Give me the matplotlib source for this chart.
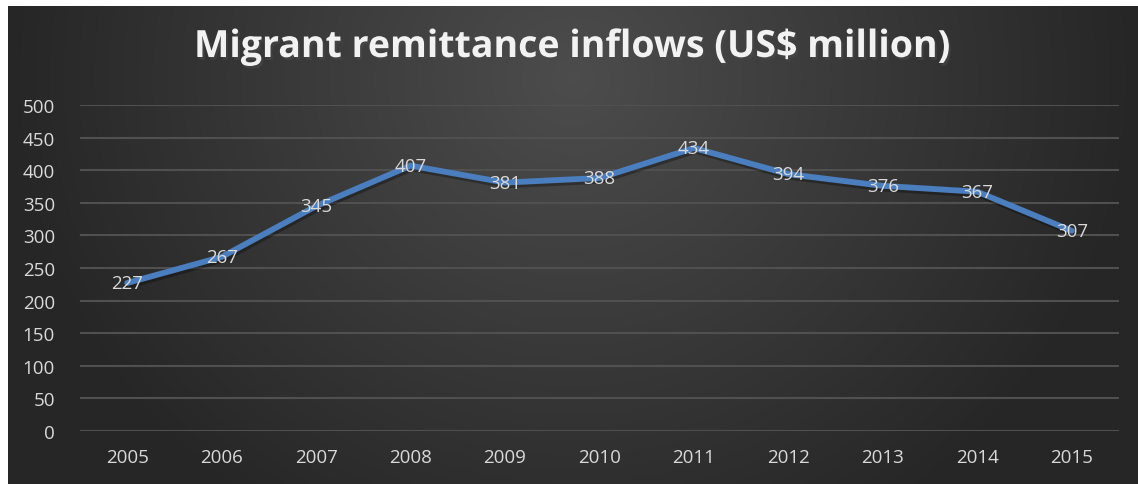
import numpy as np
import matplotlib.pyplot as plt
import matplotlib.patheffects as pe

years = ['2005', '2006', '2007', '2008', '2009', '2010', '2011', '2012', '2013', '2014', '2015']
inflows = [227, 267, 345, 407, 381, 388, 434, 394, 376, 367, 307]
yticks = [0, 50, 100, 150, 200, 250, 300, 350, 400, 450, 500]

W, H = 1138, 485
fig = plt.figure(figsize=(W / 100, H / 100), dpi=100, facecolor='white')

# dark radial gradient background (chart area, leaves white strip on top/left)
bg = fig.add_axes([8 / W, 0, 1 - 8 / W, 1 - 7 / H])
gx, gy = np.meshgrid(np.linspace(-1, 1, 400), np.linspace(0, 1, 200))
r = np.sqrt((gx / 1.0) ** 2 + ((gy - 0.15) / 1.1) ** 2)
shade = np.clip(0.30 - 0.15 * r, 0.15, 0.30)
bg.imshow(np.dstack([shade] * 3), aspect='auto', extent=[0, 1, 0, 1], origin='upper')
bg.axis('off')

txt = '#d9d9d9'
ax = fig.add_axes([80 / W, (H - 432) / H, (1119 - 80) / W, (432 - 106) / H])
ax.patch.set_alpha(0)
x = np.arange(len(years))
ax.plot(x, inflows, color='#4a7ebf', lw=4.2, solid_capstyle='round',
        path_effects=[pe.SimpleLineShadow(offset=(1, -2), alpha=0.3), pe.Normal()])
for xi, v in zip(x, inflows):
    ax.text(xi, v, str(v), color=txt, fontsize=13.5, family='Open Sans',
            ha='center', va='center')

ax.set_xlim(-0.5, len(years) - 0.5)
ax.set_ylim(0, 500)
ax.set_yticks(yticks)
ax.set_xticks(x)
ax.set_xticklabels(years)
for s in ax.spines.values():
    s.set_visible(False)
ax.grid(axis='y', color='#505050', lw=1.5)
ax.set_axisbelow(True)
ax.tick_params(length=0, colors=txt, labelsize=13.5, pad=12)
ax.tick_params(axis='y', pad=18)
for lab in ax.get_xticklabels() + ax.get_yticklabels():
    lab.set_family('Open Sans')

fig.text(572 / W, 1 - 48 / H, 'Migrant remittance inflows (US$ million)',
         color='#f2f2f2', fontsize=27, fontweight='bold', family='Open Sans',
         ha='center', va='center',
         path_effects=[pe.withSimplePatchShadow(offset=(1.5, -2), alpha=0.6)])

fig.savefig('out.png', dpi=100, facecolor='white')
